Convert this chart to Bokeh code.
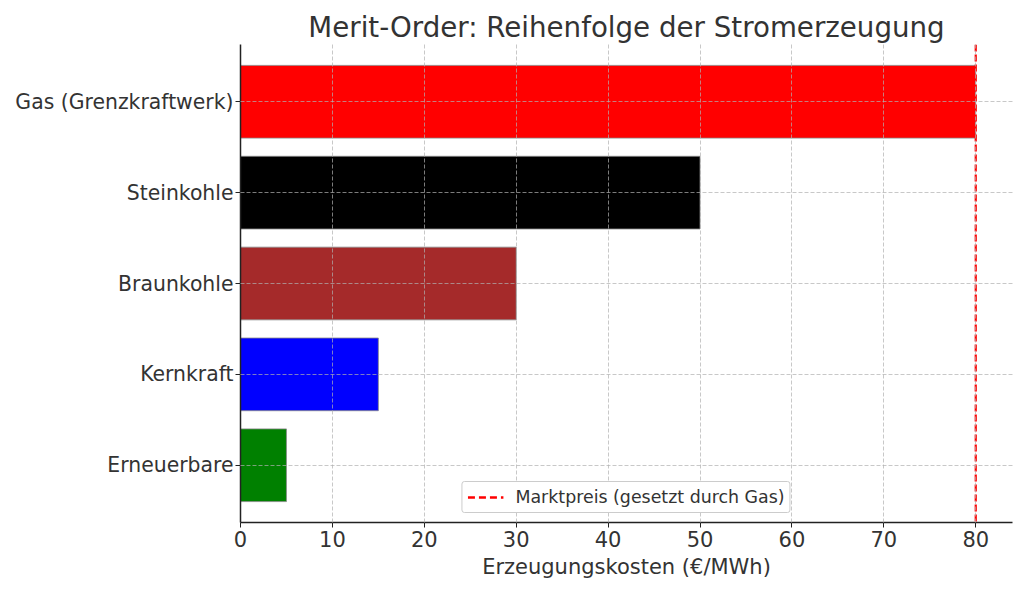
from bokeh.plotting import figure
from bokeh.models import Range1d, FixedTicker, Span, ColumnDataSource, Legend, LegendItem
from bokeh.embed import file_html
from bokeh.resources import INLINE

categories = ["Erneuerbare", "Kernkraft", "Braunkohle", "Steinkohle", "Gas (Grenzkraftwerk)"]
costs = [5, 15, 30, 50, 80]
colors = ["green", "blue", "#a52a2a", "black", "red"]
market_price = 80
x_ticks = [0, 10, 20, 30, 40, 50, 60, 70, 80]

FONT = "DejaVu Sans"
TXT = "#333333"

p = figure(width=1016, height=581, output_backend="svg", toolbar_location=None,
           x_range=Range1d(0, 84), y_range=Range1d(-0.63, len(categories) - 1 + 0.63),
           min_border_left=240, min_border_right=4, min_border_top=44, min_border_bottom=59)

src = ColumnDataSource(dict(y=list(range(len(categories))), right=costs, color=colors))
p.hbar(y="y", left=0, right="right", height=0.8, color="color", source=src,
       line_color="#888888", line_width=1, line_alpha=0.8)

# grid above bars
p.xgrid.level = "overlay"
p.ygrid.level = "overlay"
for g in (p.xgrid, p.ygrid):
    g.grid_line_color = "#b0b0b0"
    g.grid_line_alpha = 0.7
    g.grid_line_dash = "4 2"
    g.grid_line_width = 1

p.xgrid.ticker = FixedTicker(ticks=x_ticks)
p.ygrid.ticker = FixedTicker(ticks=list(range(len(categories))))

p.xaxis.ticker = FixedTicker(ticks=x_ticks)
p.yaxis.ticker = FixedTicker(ticks=list(range(len(categories))))
p.yaxis.major_label_overrides = {i: c for i, c in enumerate(categories)}

for ax in (p.xaxis, p.yaxis):
    ax.axis_line_color = "#222222"
    ax.axis_line_width = 1.5
    ax.major_tick_line_color = "#222222"
    ax.major_tick_out = 5
    ax.major_tick_in = 0
    ax.minor_tick_line_color = None
    ax.major_label_text_font = FONT
    ax.major_label_text_color = TXT

p.xaxis.major_label_text_font_size = "21px"
p.yaxis.major_label_text_font_size = "20.4px"

p.xaxis.axis_label = "Erzeugungskosten (€/MWh)"
p.xaxis.axis_label_text_font = FONT
p.xaxis.axis_label_text_font_size = "21px"
p.xaxis.axis_label_text_font_style = "normal"
p.xaxis.axis_label_text_color = TXT
p.xaxis.axis_label_standoff = 5
p.xaxis.major_label_standoff = 3
p.yaxis.major_label_standoff = 2

p.outline_line_color = None

p.title.text = "Merit-Order: Reihenfolge der Stromerzeugung"
p.title.text_font = FONT
p.title.text_font_size = "27.7px"
p.title.text_font_style = "normal"
p.title.text_color = TXT
p.title.align = "center"
p.title.standoff = 2

span = Span(location=market_price, dimension="height", line_color="red",
            line_dash="7 3", line_width=2.2)
p.add_layout(span)

# legend proxy
proxy = p.line(x=[market_price, market_price], y=[-10, -10], line_color="red",
               line_dash="7 4", line_width=2.5)
legend = Legend(items=[LegendItem(label="Marktpreis (gesetzt durch Gas)", renderers=[proxy])],
                location="bottom_center")
legend.label_text_font = FONT
legend.label_text_font_size = "17.4px"
legend.label_text_color = TXT
legend.border_line_color = "#cccccc"
legend.border_line_alpha = 1
legend.border_radius = 3
legend.background_fill_alpha = 1.0
legend.glyph_width = 36
legend.padding = 5
legend.spacing = 0
legend.margin = 9
legend.label_standoff = 12
p.add_layout(legend)

open("out.html", "w").write(file_html(p, INLINE))
